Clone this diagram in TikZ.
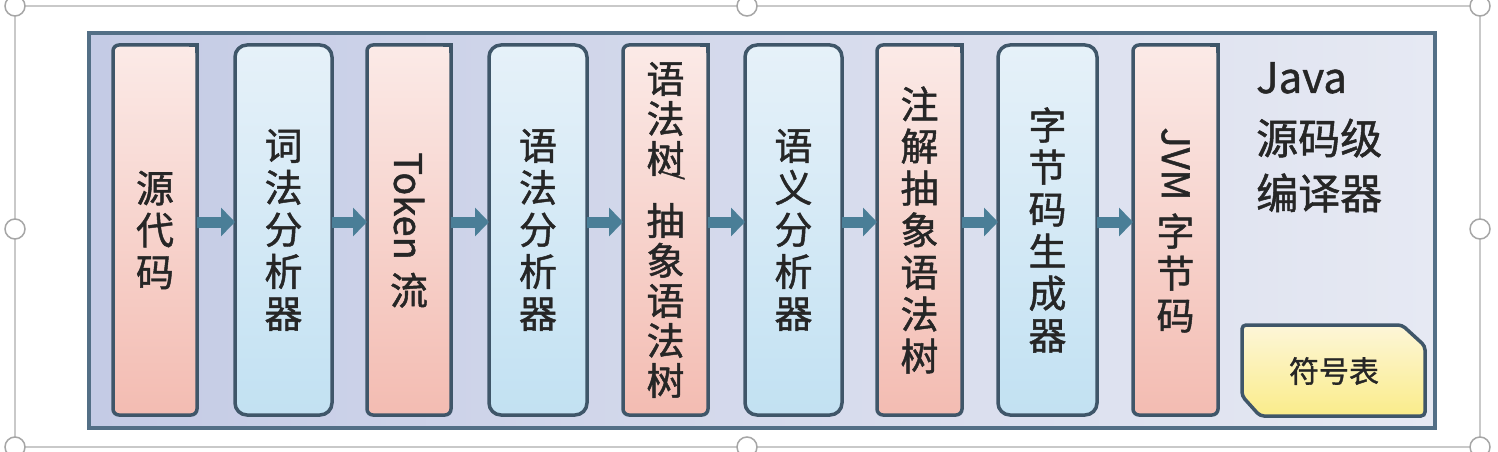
\documentclass[tikz,border=0pt]{standalone}
\usepackage{fontspec}
\newfontfamily\cjk[FakeBold=1.2]{Noto Sans CJK SC}
\usetikzlibrary{arrows.meta}
\definecolor{panelL}{HTML}{C4CBE5}
\definecolor{panelR}{HTML}{E6E9F3}
\definecolor{panelline}{HTML}{536F86}
\definecolor{boxline}{HTML}{3F5669}
\definecolor{pinkA}{HTML}{FBEAE7}
\definecolor{pinkB}{HTML}{F3BCB2}
\definecolor{blueA}{HTML}{E6F1F9}
\definecolor{blueB}{HTML}{C2E1F2}
\definecolor{yelA}{HTML}{FDF6D8}
\definecolor{yelB}{HTML}{FAEC8A}
\definecolor{flowblue}{HTML}{4A7E97}
\definecolor{selframe}{HTML}{C9C9C9}
\definecolor{ink}{HTML}{262626}

\tikzset{
  stage/.style={draw=boxline, line width=3.5pt, minimum height=370pt, inner sep=0pt, outer sep=0pt,
    align=center, text=ink, font=\cjk\fontsize{38}{42}\selectfont},
  pinkstage/.style={stage, minimum width=84pt, rounded corners=6pt, top color=pinkA, bottom color=pinkB},
  bluestage/.style={stage, minimum width=97pt, rounded corners=12pt, top color=blueA, bottom color=blueB},
  flow/.style={draw=flowblue, line width=11pt, -{Triangle[length=14pt,width=28pt]}},
  handle/.style={circle, draw=gray!70, fill=white, line width=1.5pt, minimum size=20pt, inner sep=0pt},
  sqcorner/.style={draw=boxline, line width=3.5pt},
}

\begin{document}
\begin{tikzpicture}[x=1pt,y=-1pt]
  \useasboundingbox (0,0) rectangle (1498,452);
  % selection frame
  \draw[selframe, line width=1.5pt] (15,6) rectangle (1480,447);
  \node[handle] (hnw) at (15,6) {};
  \node[handle] (hn) at (747,6) {};
  \node[handle] (hne) at (1480,6) {};
  \node[handle] (hw) at (15,229) {};
  \node[handle] (he) at (1480,229) {};
  \node[handle] (hsw) at (15,447) {};
  \node[handle] (hs) at (747,447) {};
  \node[handle] (hse) at (1480,447) {};
  % compiler panel
  \draw[draw=panelline, line width=3.5pt, left color=panelL, right color=panelR] (89,33) rectangle (1435,428);
  % stages
  \node[pinkstage] (src) at (155,230) {源\\代\\码};
  \node[bluestage] (lex) at (283.5,230) {词\\法\\分\\析\\器};
  \node[pinkstage] (tok) at (409,230) {\rotatebox{-90}{Token}\\[12pt]流};
  \node[bluestage, minimum width=98pt] (syn) at (538,230) {语\\法\\分\\析\\器};
  \node[pinkstage, minimum width=85pt, font=\cjk\fontsize{38}{40}\selectfont] (ast) at (665.5,230)
    {语\\法\\树\llap{\raisebox{2pt}{\scalebox{0.6}{\rotatebox{-90}{/}}}}\\[22pt]抽\\象\\语\\法\\树};
  \node[bluestage] (sem) at (793.5,230) {语\\义\\分\\析\\器};
  \node[pinkstage, minimum width=85pt] (ann) at (919.5,230) {注\\解\\抽\\象\\语\\法\\树};
  \node[bluestage, minimum width=99pt] (gen) at (1047.5,230) {字\\节\\码\\生\\成\\器};
  \node[pinkstage, minimum width=85pt] (jvm) at (1175.5,230) {\rotatebox{-90}{JVM}\\[12pt]字\\节\\码};
  % square top right corners of the pink stages
  \fill[pinkA] (src.north east) rectangle +(-8,8);
  \draw[sqcorner] ([xshift=-8pt]src.north east) -- (src.north east) -- ([yshift=-8pt]src.north east);
  \fill[pinkA] (tok.north east) rectangle +(-8,8);
  \draw[sqcorner] ([xshift=-8pt]tok.north east) -- (tok.north east) -- ([yshift=-8pt]tok.north east);
  \fill[pinkA] (ast.north east) rectangle +(-8,8);
  \draw[sqcorner] ([xshift=-8pt]ast.north east) -- (ast.north east) -- ([yshift=-8pt]ast.north east);
  \fill[pinkA] (ann.north east) rectangle +(-8,8);
  \draw[sqcorner] ([xshift=-8pt]ann.north east) -- (ann.north east) -- ([yshift=-8pt]ann.north east);
  \fill[pinkA] (jvm.north east) rectangle +(-8,8);
  \draw[sqcorner] ([xshift=-8pt]jvm.north east) -- (jvm.north east) -- ([yshift=-8pt]jvm.north east);
  % flow
  \draw[flow] ([yshift=8pt]src.east) -- ([yshift=8pt]lex.west);
  \draw[flow] ([yshift=8pt]lex.east) -- ([yshift=8pt]tok.west);
  \draw[flow] ([yshift=8pt]tok.east) -- ([yshift=8pt]syn.west);
  \draw[flow] ([yshift=8pt]syn.east) -- ([yshift=8pt]ast.west);
  \draw[flow] ([yshift=8pt]ast.east) -- ([yshift=8pt]sem.west);
  \draw[flow] ([yshift=8pt]sem.east) -- ([yshift=8pt]ann.west);
  \draw[flow] ([yshift=8pt]ann.east) -- ([yshift=8pt]gen.west);
  \draw[flow] ([yshift=8pt]gen.east) -- ([yshift=8pt]jvm.west);
  % title and symbol table
  \node[anchor=north west, align=left, inner sep=0pt, text=ink, font=\cjk\fontsize{42}{55}\selectfont]
    (title) at (1256,62) {Java\\[6pt]源码级\\编译器};
  \draw[draw=boxline, line width=3.5pt, top color=yelA, bottom color=yelB, rounded corners=4pt]
    (1242,325) -- (1402,325) -- (1425,346) -- (1425,416) -- (1260,416) -- (1242,396) -- cycle;
  \node[text=ink, font=\cjk\fontsize{30}{34}\selectfont] (sym) at (1334,371) {符号表};
\end{tikzpicture}
\end{document}
